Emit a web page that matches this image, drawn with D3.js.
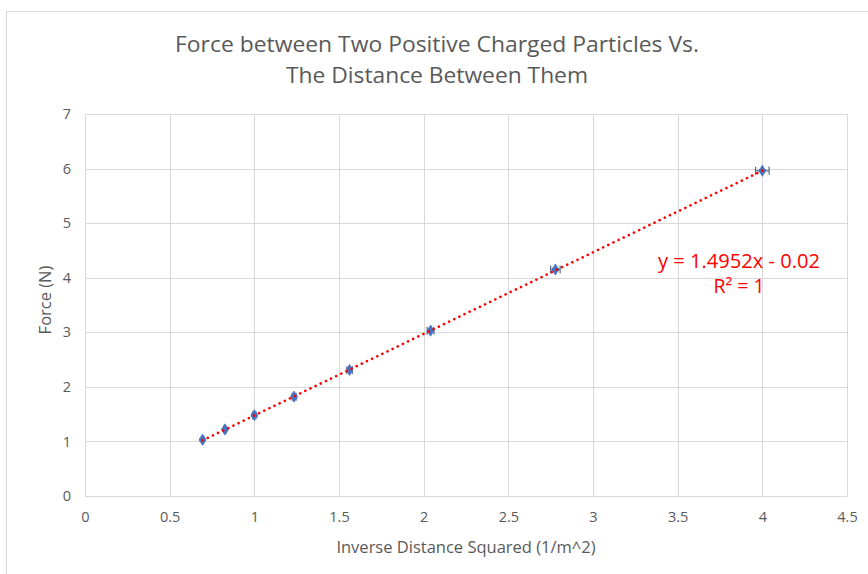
<!DOCTYPE html>
<html>
<head>
<meta charset="utf-8">
<script src="https://cdn.jsdelivr.net/npm/d3@7"></script>
<style>
  html, body { margin: 0; padding: 0; background: #fff; }
  svg { display: block; }
  text { font-family: "Open Sans", "Liberation Sans", sans-serif; }
</style>
</head>
<body>
<svg id="chart" width="868" height="574"></svg>
<script>
// Inverse distance squared (1/m^2) for separations 1.2 m down to 0.5 m
const inverseDistSq = [0.6944, 0.8264, 1.0, 1.2346, 1.5625, 2.0408, 2.7778, 4.0];
// Measured force (N)
const forceN = [1.03, 1.22, 1.48, 1.82, 2.31, 3.03, 4.15, 5.96];
// Error bar half-widths
const xErr = [0.007, 0.008, 0.010, 0.012, 0.016, 0.020, 0.028, 0.040];
const yErr = [0.02, 0.02, 0.02, 0.02, 0.02, 0.02, 0.02, 0.02];

const xTicks = [0, 0.5, 1, 1.5, 2, 2.5, 3, 3.5, 4, 4.5];
const yTicks = [0, 1, 2, 3, 4, 5, 6, 7];

// Linear trendline coefficients
const slope = 1.4952;
const intercept = -0.02;
const rSquared = 1;

const titleLines = ["Force between Two Positive Charged Particles Vs.", "The Distance Between Them"];

const svg = d3.select("#chart");
const textGray = "#595959";
const gridGray = "#d9d9d9";

const x = d3.scaleLinear().domain([0, 4.5]).range([85, 847]);
const y = d3.scaleLinear().domain([0, 7]).range([496, 114]);

// outer chart frame
svg.append("rect")
  .attr("x", 6.5).attr("y", 11.5)
  .attr("width", 900).attr("height", 600)
  .attr("fill", "#fff").attr("stroke", "#d9d9d9").attr("stroke-width", 1);

// title
svg.append("g").selectAll("text").data(titleLines).join("text")
  .attr("x", 437).attr("y", (d, i) => 52 + i * 31)
  .attr("text-anchor", "middle")
  .attr("fill", textGray)
  .attr("font-size", 22)
  .attr("textLength", (d, i) => i === 0 ? 524 : 302)
  .attr("lengthAdjust", "spacingAndGlyphs")
  .text(d => d);

// gridlines
const grid = svg.append("g");
grid.selectAll("line.v").data(xTicks).join("line")
  .attr("class", "v")
  .attr("x1", d => Math.round(x(d)) + 0.5).attr("x2", d => Math.round(x(d)) + 0.5)
  .attr("y1", y(7)).attr("y2", y(0))
  .attr("stroke", gridGray).attr("stroke-width", 1);
grid.selectAll("line.h").data(yTicks).join("line")
  .attr("class", "h")
  .attr("x1", x(0)).attr("x2", x(4.5))
  .attr("y1", d => Math.round(y(d)) + 0.5).attr("y2", d => Math.round(y(d)) + 0.5)
  .attr("stroke", gridGray).attr("stroke-width", 1);

// axes (labels only; lines come from the grid)
const xAxis = d3.axisBottom(x).tickValues(xTicks).tickSize(0).tickPadding(16)
  .tickFormat(d => String(d));
const gx = svg.append("g").attr("transform", `translate(0,${y(0)})`).call(xAxis);
gx.select(".domain").attr("stroke", gridGray);
gx.selectAll("text").attr("fill", textGray).attr("font-size", 14.5)
  .attr("font-family", "'Open Sans', sans-serif");

const yAxis = d3.axisLeft(y).tickValues(yTicks).tickSize(0).tickPadding(14)
  .tickFormat(d => String(d));
const gy = svg.append("g").attr("transform", `translate(${x(0)},0)`).call(yAxis);
gy.select(".domain").remove();
gy.selectAll("text").attr("fill", textGray).attr("font-size", 14.5)
  .attr("font-family", "'Open Sans', sans-serif");

// axis titles
svg.append("text")
  .attr("x", 466).attr("y", 553)
  .attr("text-anchor", "middle").attr("fill", textGray).attr("font-size", 16.5)
  .text("Inverse Distance Squared (1/m^2)");
svg.append("text")
  .attr("transform", "translate(51,300) rotate(-90)")
  .attr("text-anchor", "middle").attr("fill", textGray).attr("font-size", 16.5)
  .text("Force (N)");

const pts = inverseDistSq.map((v, i) => ({ x: v, y: forceN[i], ex: xErr[i], ey: yErr[i] }));

// error bars
const eb = svg.append("g").attr("stroke", "#5a6a8a").attr("stroke-width", 1.2);
pts.forEach(p => {
  const cx = x(p.x), cy = y(p.y);
  eb.append("line").attr("x1", x(p.x - p.ex)).attr("x2", x(p.x + p.ex)).attr("y1", cy).attr("y2", cy);
  eb.append("line").attr("x1", x(p.x - p.ex)).attr("x2", x(p.x - p.ex)).attr("y1", cy - 4).attr("y2", cy + 4);
  eb.append("line").attr("x1", x(p.x + p.ex)).attr("x2", x(p.x + p.ex)).attr("y1", cy - 4).attr("y2", cy + 4);
  eb.append("line").attr("x1", cx).attr("x2", cx).attr("y1", y(p.y - p.ey)).attr("y2", y(p.y + p.ey));
  eb.append("line").attr("x1", cx - 3.5).attr("x2", cx + 3.5).attr("y1", y(p.y - p.ey)).attr("y2", y(p.y - p.ey));
  eb.append("line").attr("x1", cx - 3.5).attr("x2", cx + 3.5).attr("y1", y(p.y + p.ey)).attr("y2", y(p.y + p.ey));
});

// markers
svg.append("g").selectAll("path").data(pts).join("path")
  .attr("d", d3.symbol(d3.symbolDiamond, 36))
  .attr("transform", d => `translate(${x(d.x)},${y(d.y)})`)
  .attr("fill", "#4472C4").attr("stroke", "#4472C4").attr("stroke-width", 0.8);

// dotted trendline
const xs = d3.extent(inverseDistSq);
svg.append("line")
  .attr("x1", x(xs[0])).attr("y1", y(slope * xs[0] + intercept))
  .attr("x2", x(xs[1])).attr("y2", y(slope * xs[1] + intercept))
  .attr("stroke", "#FF0000").attr("stroke-width", 2.6)
  .attr("stroke-linecap", "round").attr("stroke-dasharray", "0.1 5.6");

// equation label
const eq = svg.append("g").attr("fill", "#FF0000").attr("font-size", 19.5).attr("text-anchor", "middle");
eq.append("text").attr("x", 739).attr("y", 268)
  .attr("textLength", 162).attr("lengthAdjust", "spacingAndGlyphs")
  .text(`y = ${slope}x - ${Math.abs(intercept)}`);
eq.append("text").attr("x", 739).attr("y", 293)
  .text(`R² = ${rSquared}`);
</script>
</body>
</html>
